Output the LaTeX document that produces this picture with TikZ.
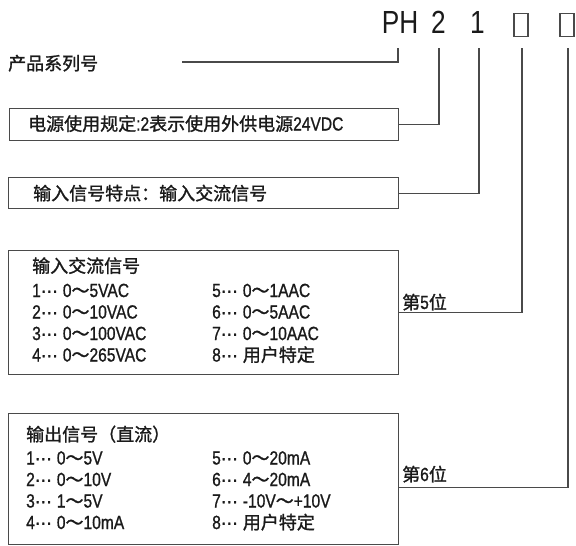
\documentclass[tikz,border=0pt]{standalone}
\usepackage{fontspec}
\setmainfont{Noto Sans CJK SC}[FakeBold=1.3]
\newfontfamily\latf{Liberation Sans}[FakeStretch=0.82,FakeBold=0.9]
\newfontfamily\codef{Liberation Sans}[FakeStretch=0.82]
\newfontfamily\dotf{DejaVu Sans}[FakeBold=1.5]
\newcommand\lt[1]{{\latf\fontsize{19}{19}\selectfont #1}}
\newcommand\ritem[2]{\lt{#1}{\dotf\fontsize{17}{17}\selectfont ⋯}\hspace{5pt}#2}
\definecolor{ink}{HTML}{1A1A1A}
\definecolor{linec}{HTML}{4A4A4A}
\tikzset{
  box/.style={draw=linec, line width=1.3pt, inner sep=0pt, anchor=north west},
  conn/.style={draw=linec, line width=1.2pt},
  txt/.style={inner sep=0pt, anchor=base west, text=ink, font=\fontsize{18}{18}\selectfont},
  code/.style={inner sep=0pt, anchor=base, text=ink, font=\codef\fontsize{32}{32}\selectfont},
  slot/.style={draw=linec, line width=1.1pt, inner sep=0pt, minimum width=14pt, minimum height=23pt}
}
\begin{document}
\begin{tikzpicture}[x=1pt,y=-1pt]
\useasboundingbox[fill=white] (0,0) rectangle (576,546);
% code
\node[code] (ph) at (400,33) {PH};
\node[code] (d2) at (438.5,33) {2};
\node[code] (d1) at (477.5,33) {1};
\node[slot] (s5) at (521,25) {};
\node[slot] (s6) at (567,25) {};
% series
\node[txt] (series) at (8,70) {产品系列号};
\coordinate (c1) at (182,62);
% boxes
\node[box, minimum width=389pt, minimum height=32pt] (b1) at (9,108) {};
\node[txt] (t1) at (28,130.5) {电源使用规定\lt{:2}表示使用外供电源\lt{24VDC}};
\node[box, minimum width=390pt, minimum height=31pt] (b2) at (8,177) {};
\node[txt] (t2) at (33,200) {输入信号特点：输入交流信号};
\node[box, minimum width=390pt, minimum height=124pt] (b3) at (8,250) {};
\node[txt] (h3) at (32,272.5) {输入交流信号};
\node[txt] (a1) at (32,297) {\ritem{1}{\lt{0}～\lt{5VAC}}};
\node[txt] (a2) at (32,318.5) {\ritem{2}{\lt{0}～\lt{10VAC}}};
\node[txt] (a3) at (32,340) {\ritem{3}{\lt{0}～\lt{100VAC}}};
\node[txt] (a4) at (32,361.5) {\ritem{4}{\lt{0}～\lt{265VAC}}};
\node[txt] (a5) at (212,297) {\ritem{5}{\lt{0}～\lt{1AAC}}};
\node[txt] (a6) at (212,318.5) {\ritem{6}{\lt{0}～\lt{5AAC}}};
\node[txt] (a7) at (212,340) {\ritem{7}{\lt{0}～\lt{10AAC}}};
\node[txt] (a8) at (212,361.5) {\ritem{8}{用户特定}};
\node[box, minimum width=390pt, minimum height=131pt] (b4) at (8,413) {};
\node[txt] (h4) at (26,441) {输出信号（直流）};
\node[txt] (o1) at (26,464.5) {\ritem{1}{\lt{0}～\lt{5V}}};
\node[txt] (o2) at (26,486) {\ritem{2}{\lt{0}～\lt{10V}}};
\node[txt] (o3) at (26,507.5) {\ritem{3}{\lt{1}～\lt{5V}}};
\node[txt] (o4) at (26,529) {\ritem{4}{\lt{0}～\lt{10mA}}};
\node[txt] (o5) at (212,464.5) {\ritem{5}{\lt{0}～\lt{20mA}}};
\node[txt] (o6) at (212,486) {\ritem{6}{\lt{4}～\lt{20mA}}};
\node[txt] (o7) at (212,507.5) {\ritem{7}{\lt{-10V}～\lt{+10V}}};
\node[txt] (o8) at (212,529) {\ritem{8}{用户特定}};
\node[txt] (p5) at (402,309) {第\lt{5}位};
\node[txt] (p6) at (402,481) {第\lt{6}位};
% connectors
\draw[conn] ([xshift=-2pt,yshift=-15pt]ph.south) |- (c1);
\draw[conn] (b1.east) -| ([xshift=0.5pt,yshift=-15pt]d2.south);
\draw[conn] (b2.east) -| ([xshift=1.5pt,yshift=-15pt]d1.south);
\draw[conn] (b3.east) -| ([xshift=1pt,yshift=-11pt]s5.south);
\draw[conn] ([yshift=-8.5pt]b4.east) -| ([xshift=1pt,yshift=-11pt]s6.south);
\end{tikzpicture}
\end{document}
